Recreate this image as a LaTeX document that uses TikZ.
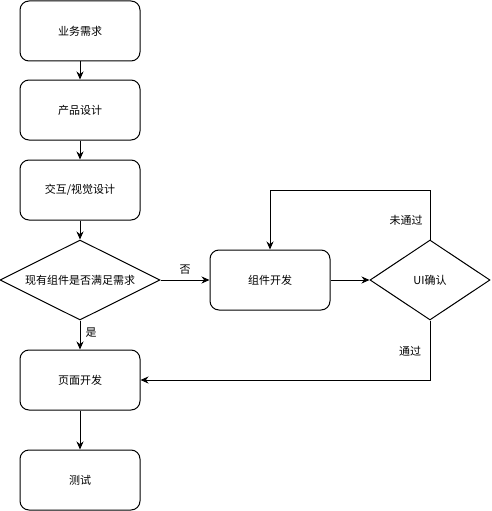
\documentclass[tikz,border=0pt]{standalone}
\usepackage{fontspec}
\setmainfont{Noto Sans CJK SC}
\usetikzlibrary{arrows.meta,shapes.geometric}
\begin{document}
\begin{tikzpicture}[x=1pt,y=-1pt,
  every node/.style={font=\fontsize{11}{13}\selectfont},
  stepbox/.style={draw,line width=1pt,rounded corners=9pt,minimum width=120pt,minimum height=60pt,inner sep=0pt},
  decide/.style={draw,line width=1pt,diamond,aspect=2,inner sep=0pt},
  arr/.style={draw,line width=1pt,-{Stealth[length=8pt,width=7pt]}},
  lbl/.style={inner sep=1pt}]
\useasboundingbox (0,0) rectangle (491,511);
\node[stepbox] (a) at (80,31) {业务需求};
\node[stepbox] (b) at (80,110) {产品设计};
\node[stepbox] (c) at (80,190) {交互/视觉设计};
\node[decide,minimum width=160pt,minimum height=80pt] (d) at (80,280) {现有组件是否满足需求};
\node[stepbox] (e) at (270,280) {组件开发};
\node[decide,minimum width=120pt,minimum height=80pt] (f) at (430,280) {UI确认};
\node[stepbox] (g) at (80,380) {页面开发};
\node[stepbox] (h) at (80,480) {测试};
\coordinate (t1) at (430,190);
\coordinate (t2) at (270,190);
\coordinate (b1) at (430,380);
\draw[arr] (a) -- (b);
\draw[arr] (b) -- (c);
\draw[arr] (c) -- (d);
\draw[arr] (d) -- node[lbl,pos=0.4,right=4pt]{是} (g);
\draw[arr] (d) -- node[lbl,pos=0.5,above=4pt]{否} (e);
\draw[arr] (e) -- (f);
\draw[arr] (f.north) -- (t1) -- (t2) -- (e.north);
\draw[arr] (f.south) -- (b1) -- (g.east);
\draw[arr] (g) -- (h);
\node[lbl] (n1) at (406,220) {未通过};
\node[lbl] (n2) at (410,351) {通过};
\end{tikzpicture}
\end{document}
